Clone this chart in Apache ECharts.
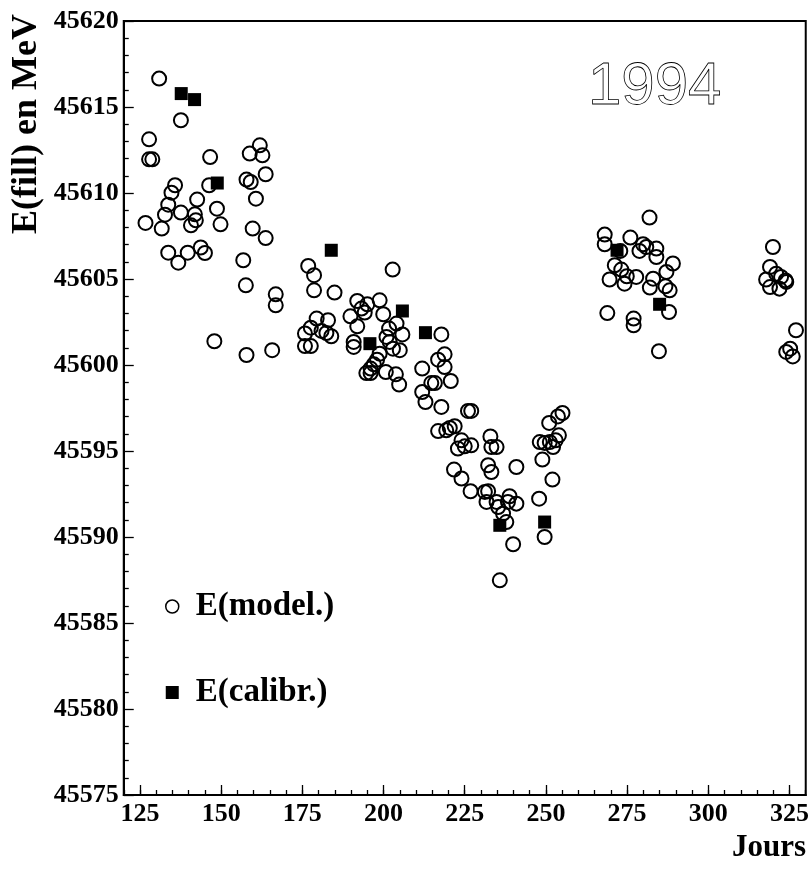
<!DOCTYPE html>
<html><head><meta charset="utf-8">
<script src="https://cdn.jsdelivr.net/npm/echarts@6/dist/echarts.min.js"></script>
<style>html,body{margin:0;padding:0;background:#fff}#c{width:812px;height:877px}</style>
</head><body><div id="c"></div>
<script>
// E(model.) : [jour, E (MeV)]
const modelData = [
[130.9,45616.65],[137.6,45614.23],[127.8,45613.12],[127.8,45611.96],[128.8,45611.96],
[146.6,45612.09],[161.9,45612.77],[158.8,45612.29],[162.7,45612.19],[163.7,45611.09],
[157.8,45610.78],[159.1,45610.64],[146.3,45610.45],[135.8,45610.45],[134.7,45610.02],
[142.6,45609.62],[133.7,45609.32],[160.7,45609.67],[132.7,45608.74],[137.6,45608.86],
[141.9,45608.76],[142.2,45608.41],[140.7,45608.12],[148.7,45609.09],[149.8,45608.18],
[126.7,45608.26],[131.7,45607.93],[159.7,45607.93],[163.7,45607.38],[133.7,45606.53],
[139.7,45606.53],[136.8,45605.95],[143.7,45606.83],[145.0,45606.51],[156.8,45606.09],
[157.6,45604.63],[166.8,45604.11],[166.8,45603.47],[176.8,45605.76],[178.6,45605.22],
[178.6,45604.34],[179.4,45602.70],[175.8,45601.83],[177.6,45602.17],[175.8,45601.10],
[177.6,45601.10],[147.9,45601.38],[157.8,45600.58],[165.7,45600.86],
[184.9,45604.21],[202.8,45605.55],[191.9,45603.72],[195.0,45603.53],[198.8,45603.76],
[193.2,45603.28],[194.2,45603.05],[189.8,45602.83],[199.9,45602.95],[191.9,45602.25],
[204.0,45602.41],[201.7,45602.12],[205.8,45601.78],[182.9,45602.60],[180.9,45601.98],
[182.4,45601.86],[183.9,45601.67],[190.8,45601.34],[190.8,45601.05],[200.9,45601.63],
[201.9,45601.34],[202.9,45600.95],[205.0,45600.86],[198.8,45600.66],[198.0,45600.31],
[197.0,45600.04],[196.0,45599.79],[194.7,45599.53],[196.0,45599.53],[200.7,45599.59],
[203.8,45599.46],[204.8,45598.86],[217.8,45601.78],[216.8,45600.31],[218.8,45600.62],
[218.8,45599.88],[211.9,45599.79],[214.7,45598.95],[215.8,45598.95],[220.7,45599.07],
[211.9,45598.43],[212.9,45597.85],[217.8,45597.56],[226.0,45597.33],[227.0,45597.33],
[216.8,45596.16],[219.3,45596.20],[220.4,45596.34],[221.9,45596.44],[224.0,45595.62],
[225.0,45595.27],[227.0,45595.33],[222.9,45595.14],[232.9,45595.85],[233.2,45595.23],
[234.8,45595.23],[221.7,45593.92],[224.0,45593.40],[226.8,45592.66],[232.2,45594.17],
[233.2,45593.78],[240.9,45594.07],[231.2,45592.62],[232.2,45592.66],[231.7,45592.04],
[234.8,45592.04],[235.3,45591.74],[238.8,45592.37],[240.9,45591.94],[238.3,45592.04],
[236.8,45591.36],[237.8,45590.87],[239.9,45589.58],[235.8,45587.48],[247.9,45592.23],
[249.6,45590.00],
[251.0,45596.63],[253.7,45597.01],[255.1,45597.21],[248.1,45595.52],[249.6,45595.47],
[251.2,45595.52],[253.0,45595.62],[254.0,45595.91],[252.2,45595.23],[248.9,45594.50],
[252.0,45593.34],
[281.9,45608.57],[268.1,45607.58],[268.1,45607.02],[272.9,45606.63],[276.0,45607.41],
[279.9,45607.02],[280.9,45606.86],[278.8,45606.63],[284.0,45606.77],[284.0,45606.28],
[289.1,45605.90],[287.1,45605.41],[271.2,45605.80],[273.2,45605.55],[274.9,45605.16],
[277.8,45605.12],[269.6,45604.97],[274.2,45604.73],[283.0,45605.02],[282.0,45604.50],
[286.8,45604.58],[288.1,45604.34],[287.9,45603.08],[268.9,45603.02],[277.0,45602.70],
[277.0,45602.31],[284.8,45600.80],
[319.9,45606.86],[319.0,45605.70],[317.8,45604.97],[319.0,45604.53],[320.9,45605.31],
[322.4,45605.12],[323.8,45604.92],[321.9,45604.44],[324.0,45604.83],[327.0,45602.02],
[324.0,45600.76],[325.2,45600.95],[326.0,45600.50]
];
// E(calibr.) : [jour, E (MeV)]
const calibData = [
[137.7,45615.78],[141.8,45615.43],[148.8,45610.58],[183.9,45606.67],[195.8,45601.24],
[205.8,45603.14],[212.9,45601.88],[235.8,45590.68],[249.6,45590.87],[271.9,45606.67],
[285.0,45603.53]
];
const xTicks = [125,150,175,200,225,250,275,300,325];
const xRange = [120, 330];
const yRange = [45575, 45620];
const yStep = 5;
const seriesNames = ['E(model.)', 'E(calibr.)'];
const yTitle = 'E(fill) en MeV';
const xTitle = 'Jours';
const yearLabel = '1994';

const serif = '"Liberation Serif","Times New Roman",serif';
const chart = echarts.init(document.getElementById('c'), null, {renderer: 'canvas'});
const tickStyle = {color: '#000', width: 1.3};
const labelStyle = {color: '#000', fontFamily: serif, fontWeight: 'bold', fontSize: 26};

chart.setOption({
  animation: false,
  backgroundColor: '#fff',
  grid: {left: 123.75, top: 21, width: 682.5, height: 774, show: true,
         borderColor: '#000', borderWidth: 2, backgroundColor: 'transparent'},
  xAxis: [
    {type: 'value', min: xRange[0], max: xRange[1], position: 'bottom',
     axisLine: {show: true, onZero: false, lineStyle: {color: '#000', width: 2}},
     axisTick: {show: true, inside: true, length: 10, customValues: xTicks, lineStyle: tickStyle},
     axisLabel: Object.assign({show: true, customValues: xTicks, margin: 6,
       formatter: v => String(v)}, labelStyle),
     splitLine: {show: false}},
    {type: 'value', min: xRange[0], max: xRange[1], interval: 5, position: 'bottom',
     axisLine: {show: false},
     axisTick: {show: true, inside: true, length: 5, lineStyle: tickStyle},
     axisLabel: {show: false}, splitLine: {show: false}}
  ],
  yAxis: {type: 'value', min: yRange[0], max: yRange[1], interval: yStep,
    axisLine: {show: true, onZero: false, lineStyle: {color: '#000', width: 2}},
    axisTick: {show: true, inside: true, length: 10, lineStyle: tickStyle},
    minorTick: {show: true, splitNumber: 5, length: 5, lineStyle: tickStyle},
    axisLabel: Object.assign({margin: 5, formatter: v => String(v)}, labelStyle),
    splitLine: {show: false}, minorSplitLine: {show: false}},
  legend: {orient: 'vertical', left: 165, top: 590, padding: 0, itemGap: 53,
    itemWidth: 13, itemHeight: 13, selectedMode: false,
    textStyle: {color: '#000', fontFamily: serif, fontWeight: 'bold', fontSize: 33,
                lineHeight: 32, padding: [0, 0, 0, 12]},
    data: [{name: seriesNames[0], icon: 'circle', itemStyle: {borderWidth: 1.5}},
           {name: seriesNames[1], icon: 'rect'}]},
  series: [
    {type: 'scatter', name: seriesNames[0], data: modelData, symbol: 'circle', symbolSize: 14,
     itemStyle: {color: 'rgba(0,0,0,0)', borderColor: '#000', borderWidth: 2, opacity: 1},
     emphasis: {disabled: true}, z: 2},
    {type: 'scatter', name: seriesNames[1], data: calibData, symbol: 'rect', symbolSize: 13,
     itemStyle: {color: '#000', opacity: 1}, emphasis: {disabled: true}, z: 3}
  ],
  graphic: [
    {type: 'text', x: 27, y: 14, rotation: Math.PI / 2,
     style: {text: yTitle, fontFamily: serif, fontWeight: 'bold', fontSize: 36,
             fill: '#000', align: 'right', verticalAlign: 'middle'}},
    {type: 'text', x: 806, y: 848,
     style: {text: xTitle, fontFamily: serif, fontWeight: 'bold', fontSize: 31,
             fill: '#000', align: 'right', verticalAlign: 'middle'}},
    {type: 'text', x: 588, y: 87,
     style: {text: yearLabel, fontFamily: '"Liberation Sans",Arial,sans-serif', fontSize: 60,
             fill: 'rgba(0,0,0,0)', stroke: '#000', lineWidth: 0.8,
             align: 'left', verticalAlign: 'middle'}}
  ]
});
</script>
</body></html>
